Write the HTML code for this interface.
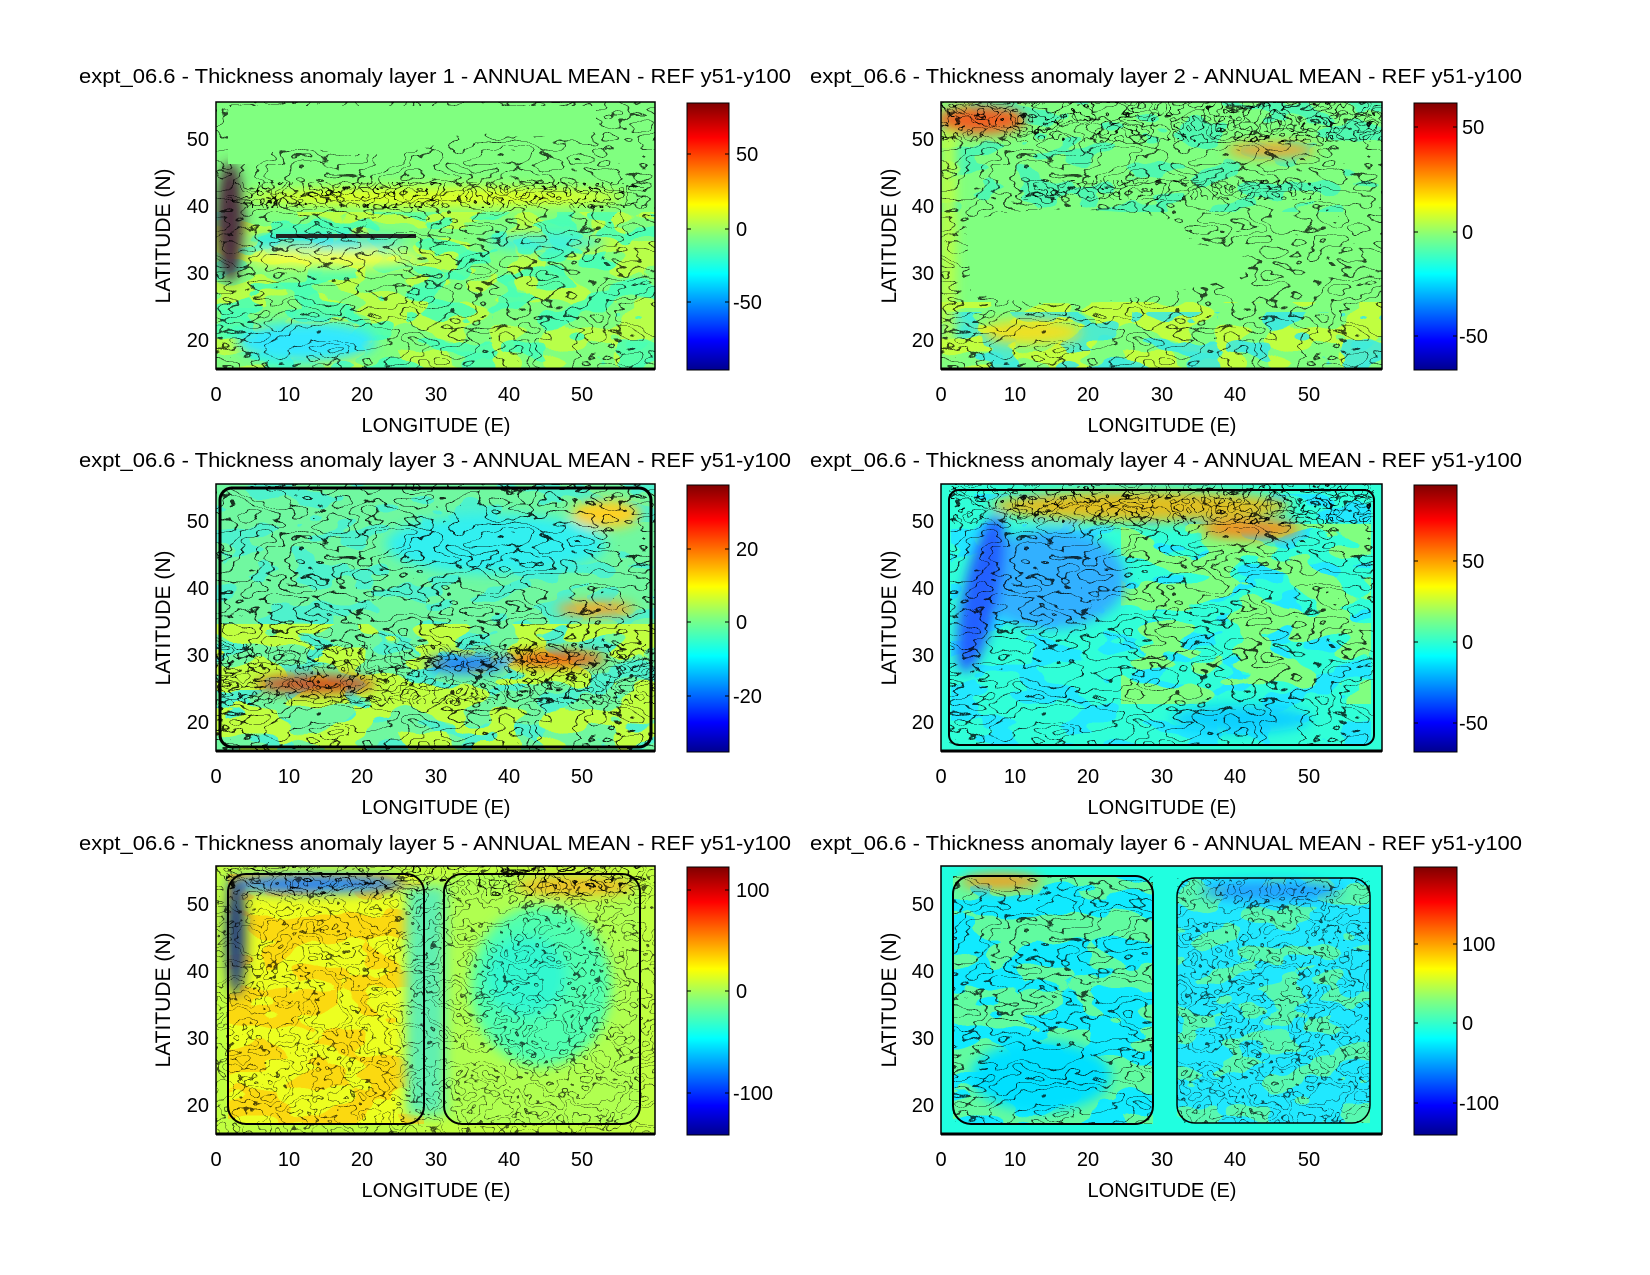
<!DOCTYPE html>
<html><head><meta charset="utf-8"><style>
html,body{margin:0;padding:0;background:#fff}
svg{display:block}
text{font-family:"Liberation Sans",sans-serif;fill:#000}
</style></head><body>
<svg width="1650" height="1275" viewBox="0 0 1650 1275" xmlns="http://www.w3.org/2000/svg">
<defs>
<linearGradient id="jet" x1="0" y1="1" x2="0" y2="0">
<stop offset="0" stop-color="#00008f"/><stop offset="0.11" stop-color="#0000ff"/>
<stop offset="0.36" stop-color="#00ffff"/><stop offset="0.5" stop-color="#80ff80"/><stop offset="0.62" stop-color="#ffff00"/>
<stop offset="0.87" stop-color="#ff0000"/><stop offset="1" stop-color="#800000"/>
</linearGradient>
<filter id="c1" x="0" y="0" width="1" height="1"><feTurbulence type="fractalNoise" baseFrequency="0.022 0.045" numOctaves="3" seed="3"/><feColorMatrix type="matrix" values="0 0 0 0 0 0 0 0 0 0 0 0 0 0 0 1 0 0 0 0"/><feComponentTransfer><feFuncA type="discrete" tableValues="0 0 0 0 0 0 0 0 0 0 0 0 0 0 0 0 0 0 0 0 0 1 0 0 0 0 0 0 0 1 0 0 0 0 0 0 0 1 0 0 0 0 0 0 0 0 0 0 0 0"/></feComponentTransfer></filter>
<filter id="c2" x="0" y="0" width="1" height="1"><feTurbulence type="fractalNoise" baseFrequency="0.04 0.05" numOctaves="3" seed="8"/><feColorMatrix type="matrix" values="0 0 0 0 0 0 0 0 0 0 0 0 0 0 0 1 0 0 0 0"/><feComponentTransfer><feFuncA type="discrete" tableValues="0 0 0 0 0 0 0 0 0 0 0 0 0 0 0 0 0 0 0 0 0 1 0 0 0 0 0 0 1 0 0 0 0 0 0 0 1 0 0 0 0 0 0 0 0 0 0 0 0 0"/></feComponentTransfer></filter>
<filter id="m1" x="0" y="0" width="1" height="1"><feTurbulence type="fractalNoise" baseFrequency="0.02 0.04" numOctaves="2" seed="5" result="n"/><feColorMatrix in="n" type="matrix" values="0 0 0 0 0 0 0 0 0 0 0 0 0 0 0 1 0 0 0 0" result="a"/><feComponentTransfer in="a" result="b"><feFuncA type="discrete" tableValues="0 0 0 0 0 0 0 0 0 0 1 1 1 1 1 1 1 1 1 1"/></feComponentTransfer><feComposite in="SourceGraphic" in2="b" operator="in"/></filter>
<filter id="m2" x="0" y="0" width="1" height="1"><feTurbulence type="fractalNoise" baseFrequency="0.025 0.05" numOctaves="2" seed="11" result="n"/><feColorMatrix in="n" type="matrix" values="0 0 0 0 0 0 0 0 0 0 0 0 0 0 0 1 0 0 0 0" result="a"/><feComponentTransfer in="a" result="b"><feFuncA type="discrete" tableValues="1 1 1 1 1 1 1 1 1 0 0 0 0 0 0 0 0 0 0 0"/></feComponentTransfer><feComposite in="SourceGraphic" in2="b" operator="in"/></filter>
<filter id="bl"><feGaussianBlur stdDeviation="6"/></filter>
</defs>

<!-- ===== Panel 1 ===== -->
<g transform="translate(216,102)">
<svg width="439" height="267" overflow="hidden">
<rect width="439" height="267" fill="#80ff80"/>
<rect y="110" width="439" height="157" fill="#b8ff48" filter="url(#m1)"/>
<rect y="110" width="439" height="157" fill="#40ffc0" filter="url(#m2)" opacity="0.8"/>
<g filter="url(#bl)">
<ellipse cx="90" cy="240" rx="70" ry="20" fill="#30e8ff"/>
<ellipse cx="120" cy="157" rx="90" ry="8" fill="#ffff40"/>
<ellipse cx="110" cy="140" rx="80" ry="6" fill="#20e0ff"/>
<ellipse cx="330" cy="140" rx="60" ry="8" fill="#40f0e0"/>
<ellipse cx="220" cy="95" rx="190" ry="10" fill="#e0ff20"/>
<ellipse cx="14" cy="120" rx="14" ry="60" fill="#503040"/>
</g>
<rect x="60" y="132" width="140" height="4" fill="#222"/>
<rect width="439" height="267" fill="#000" filter="url(#c1)" opacity="0.7"/>
<rect x="10" y="80" width="420" height="26" fill="#000" filter="url(#c2)" opacity="0.9"/>
<path d="M12 10 Q12 4 20 4 L380 4 L380 30 Q300 40 250 28 Q200 60 120 50 Q60 40 30 62 L12 62 Z" fill="#80ff80"/>
</svg>
</g>

<!-- ===== Panel 2 ===== -->
<g transform="translate(941,102)">
<svg width="441" height="267" overflow="hidden">
<rect width="441" height="267" fill="#80ff80"/>
<rect width="441" height="110" fill="#50f8b0" filter="url(#m2)"/>
<rect y="200" width="441" height="67" fill="#c0ff40" filter="url(#m1)"/>
<rect y="210" width="441" height="57" fill="#30e8f0" filter="url(#m2)" opacity="0.8"/>
<g filter="url(#bl)">
<ellipse cx="40" cy="18" rx="45" ry="14" fill="#f06020"/>
<ellipse cx="330" cy="48" rx="45" ry="7" fill="#ffa020"/>
<ellipse cx="90" cy="230" rx="50" ry="12" fill="#f0e020"/>
<rect x="0" y="30" width="14" height="220" fill="#c0ff40"/>
</g>
<rect width="441" height="267" fill="#000" filter="url(#c1)" opacity="0.7"/>
<rect width="441" height="40" fill="#000" filter="url(#c2)" opacity="0.9"/>
<rect x="80" y="78" width="300" height="20" fill="#000" filter="url(#c2)" opacity="0.8"/>
<path d="M25 120 Q90 100 200 112 Q260 120 240 140 Q330 150 300 175 Q240 190 160 200 Q80 205 30 190 Z" fill="#80ff80"/>
</svg>
</g>

<!-- ===== Panel 3 ===== -->
<g transform="translate(216,484)">
<svg width="439" height="267" overflow="hidden">
<rect width="439" height="267" fill="#70f8a0"/>
<rect width="439" height="267" fill="#40f0e0" filter="url(#m2)" opacity="0.7"/>
<rect y="140" width="439" height="127" fill="#c0ff40" filter="url(#m1)"/>
<g filter="url(#bl)">
<ellipse cx="280" cy="60" rx="110" ry="30" fill="#30f0f0"/>
<ellipse cx="340" cy="175" rx="50" ry="8" fill="#f06010"/>
<ellipse cx="250" cy="180" rx="40" ry="9" fill="#2080ff"/>
<ellipse cx="100" cy="200" rx="60" ry="9" fill="#d05020"/>
<ellipse cx="380" cy="125" rx="40" ry="7" fill="#ffa020"/>
<ellipse cx="390" cy="30" rx="35" ry="14" fill="#ffd020"/>
</g>
<rect width="439" height="267" fill="#000" filter="url(#c1)" opacity="0.8"/>
<rect y="160" width="439" height="60" fill="#000" filter="url(#c2)" opacity="0.8"/>
<rect x="4" y="4" width="431" height="259" fill="none" stroke="#000" stroke-width="3" rx="12"/>
</svg>
</g>

<!-- ===== Panel 4 ===== -->
<g transform="translate(941,484)">
<svg width="441" height="267" overflow="hidden">
<rect width="441" height="267" fill="#30ffd8"/>
<rect x="10" y="10" width="420" height="250" fill="#20e8ff" filter="url(#m2)"/>
<rect x="180" y="40" width="250" height="180" fill="#80ff80" filter="url(#m1)"/>
<g filter="url(#bl)">
<ellipse cx="110" cy="95" rx="75" ry="50" fill="#30b0ff"/>
<ellipse cx="40" cy="110" rx="18" ry="80" fill="#2060ff" transform="rotate(12 40 110)"/>
<ellipse cx="200" cy="22" rx="150" ry="16" fill="#e0c020"/>
<ellipse cx="310" cy="45" rx="50" ry="10" fill="#f09020"/>
<ellipse cx="300" cy="235" rx="70" ry="14" fill="#10d0ff"/>
</g>
<rect x="8" y="5" width="425" height="255" fill="#000" filter="url(#c1)" opacity="0.75"/>
<rect x="10" y="0" width="420" height="40" fill="#000" filter="url(#c2)" opacity="0.9"/>
<rect x="8" y="6" width="425" height="255" fill="none" stroke="#000" stroke-width="2" rx="10"/>
</svg>
</g>

<!-- ===== Panel 5 ===== -->
<g transform="translate(216,866)">
<svg width="439" height="268" overflow="hidden">
<rect width="439" height="268" fill="#c0ff40"/>
<rect x="12" y="8" width="196" height="250" rx="18" fill="#ecff20"/>
<rect x="12" y="8" width="196" height="250" fill="#ffd010" filter="url(#m1)" opacity="0.8"/>
<rect x="228" y="8" width="196" height="250" rx="18" fill="#b0ff50"/>
<g filter="url(#bl)">
<ellipse cx="325" cy="120" rx="70" ry="80" fill="#50ffb0"/>
<ellipse cx="310" cy="110" rx="40" ry="40" fill="#30f8d0"/>
<rect x="190" y="20" width="40" height="230" fill="#60f0b0"/>
<ellipse cx="360" cy="20" rx="60" ry="10" fill="#f0c020"/>
<ellipse cx="100" cy="18" rx="90" ry="9" fill="#2080ff"/>
<ellipse cx="20" cy="70" rx="10" ry="60" fill="#204080"/>
</g>
<rect width="439" height="268" fill="#000" filter="url(#c2)" opacity="0.65"/>
<rect x="10" y="0" width="420" height="30" fill="#000" filter="url(#c1)" opacity="0.9"/>
<rect x="12" y="8" width="196" height="250" rx="18" fill="none" stroke="#000" stroke-width="2"/>
<rect x="228" y="8" width="196" height="250" rx="18" fill="none" stroke="#000" stroke-width="2"/>
</svg>
</g>

<!-- ===== Panel 6 ===== -->
<g transform="translate(941,866)">
<svg width="441" height="268" overflow="hidden">
<rect width="441" height="268" fill="#20ffe0"/>
<rect x="12" y="10" width="200" height="248" rx="18" fill="#10eaff"/>
<rect x="12" y="10" width="200" height="248" fill="#70ff90" filter="url(#m1)" opacity="0.85"/>
<rect x="236" y="12" width="193" height="245" rx="18" fill="#20e8ff"/>
<rect x="236" y="12" width="193" height="245" fill="#70ff90" filter="url(#m2)" opacity="0.7"/>
<g filter="url(#bl)">
<ellipse cx="100" cy="210" rx="70" ry="35" fill="#00e0ff"/>
<ellipse cx="60" cy="15" rx="40" ry="8" fill="#f0a020"/>
<ellipse cx="330" cy="25" rx="70" ry="10" fill="#20a0ff"/>
</g>
<rect x="12" y="10" width="200" height="248" fill="#000" filter="url(#c1)" opacity="0.7"/>
<rect x="236" y="12" width="193" height="245" fill="#000" filter="url(#c2)" opacity="0.65"/>
<rect x="12" y="10" width="200" height="248" rx="18" fill="none" stroke="#000" stroke-width="2"/>
<rect x="236" y="12" width="193" height="245" rx="18" fill="none" stroke="#000" stroke-width="1.5"/>
</svg>
</g>

<!-- ===== Frames, axes, labels ===== -->
<g fill="none" stroke="#000" stroke-width="1.5">
<rect x="216" y="102" width="439" height="267"/><rect x="941" y="102" width="441" height="267"/>
<rect x="216" y="484" width="439" height="267"/><rect x="941" y="484" width="441" height="267"/>
<rect x="216" y="866" width="439" height="268"/><rect x="941" y="866" width="441" height="268"/>
</g>
<g stroke="#000" stroke-width="3">
<line x1="216" y1="369" x2="655" y2="369"/><line x1="941" y1="369" x2="1382" y2="369"/>
<line x1="216" y1="751" x2="655" y2="751"/><line x1="941" y1="751" x2="1382" y2="751"/>
<line x1="216" y1="1134" x2="655" y2="1134"/><line x1="941" y1="1134" x2="1382" y2="1134"/>
</g>

<!-- colorbars -->
<g stroke="#000" stroke-width="1">
<rect x="687" y="103" width="42" height="267" fill="url(#jet)"/>
<rect x="1414" y="103" width="43" height="267" fill="url(#jet)"/>
<rect x="687" y="485" width="42" height="267" fill="url(#jet)"/>
<rect x="1414" y="485" width="43" height="267" fill="url(#jet)"/>
<rect x="687" y="867" width="42" height="268" fill="url(#jet)"/>
<rect x="1414" y="867" width="43" height="268" fill="url(#jet)"/>
</g>

<g font-size="20">
<text x="79" y="83" textLength="712" lengthAdjust="spacingAndGlyphs">expt_06.6 - Thickness anomaly layer 1 - ANNUAL MEAN - REF y51-y100</text>
<text x="810" y="83" textLength="712" lengthAdjust="spacingAndGlyphs">expt_06.6 - Thickness anomaly layer 2 - ANNUAL MEAN - REF y51-y100</text>
<text x="79" y="467" textLength="712" lengthAdjust="spacingAndGlyphs">expt_06.6 - Thickness anomaly layer 3 - ANNUAL MEAN - REF y51-y100</text>
<text x="810" y="467" textLength="712" lengthAdjust="spacingAndGlyphs">expt_06.6 - Thickness anomaly layer 4 - ANNUAL MEAN - REF y51-y100</text>
<text x="79" y="850" textLength="712" lengthAdjust="spacingAndGlyphs">expt_06.6 - Thickness anomaly layer 5 - ANNUAL MEAN - REF y51-y100</text>
<text x="810" y="850" textLength="712" lengthAdjust="spacingAndGlyphs">expt_06.6 - Thickness anomaly layer 6 - ANNUAL MEAN - REF y51-y100</text>
</g>

<g font-size="20" text-anchor="middle">
<g>
<text x="216" y="401">0</text><text x="289" y="401">10</text><text x="362" y="401">20</text><text x="436" y="401">30</text><text x="509" y="401">40</text><text x="582" y="401">50</text>
<text x="941" y="401">0</text><text x="1015" y="401">10</text><text x="1088" y="401">20</text><text x="1162" y="401">30</text><text x="1235" y="401">40</text><text x="1309" y="401">50</text>
<text x="436" y="432">LONGITUDE (E)</text><text x="1162" y="432">LONGITUDE (E)</text>
</g>
<g transform="translate(0,382)">
<text x="216" y="401">0</text><text x="289" y="401">10</text><text x="362" y="401">20</text><text x="436" y="401">30</text><text x="509" y="401">40</text><text x="582" y="401">50</text>
<text x="941" y="401">0</text><text x="1015" y="401">10</text><text x="1088" y="401">20</text><text x="1162" y="401">30</text><text x="1235" y="401">40</text><text x="1309" y="401">50</text>
<text x="436" y="432">LONGITUDE (E)</text><text x="1162" y="432">LONGITUDE (E)</text>
</g>
<g transform="translate(0,765)">
<text x="216" y="401">0</text><text x="289" y="401">10</text><text x="362" y="401">20</text><text x="436" y="401">30</text><text x="509" y="401">40</text><text x="582" y="401">50</text>
<text x="941" y="401">0</text><text x="1015" y="401">10</text><text x="1088" y="401">20</text><text x="1162" y="401">30</text><text x="1235" y="401">40</text><text x="1309" y="401">50</text>
<text x="436" y="432">LONGITUDE (E)</text><text x="1162" y="432">LONGITUDE (E)</text>
</g>
</g>

<g font-size="20" text-anchor="end">
<g>
<text x="209" y="146">50</text><text x="209" y="213">40</text><text x="209" y="280">30</text><text x="209" y="347">20</text>
<text x="934" y="146">50</text><text x="934" y="213">40</text><text x="934" y="280">30</text><text x="934" y="347">20</text>
</g>
<g transform="translate(0,382)">
<text x="209" y="146">50</text><text x="209" y="213">40</text><text x="209" y="280">30</text><text x="209" y="347">20</text>
<text x="934" y="146">50</text><text x="934" y="213">40</text><text x="934" y="280">30</text><text x="934" y="347">20</text>
</g>
<g transform="translate(0,765)">
<text x="209" y="146">50</text><text x="209" y="213">40</text><text x="209" y="280">30</text><text x="209" y="347">20</text>
<text x="934" y="146">50</text><text x="934" y="213">40</text><text x="934" y="280">30</text><text x="934" y="347">20</text>
</g>
</g>
<g font-size="21" text-anchor="middle">
<text transform="translate(170,236) rotate(-90)">LATITUDE (N)</text>
<text transform="translate(896,236) rotate(-90)">LATITUDE (N)</text>
<text transform="translate(170,618) rotate(-90)">LATITUDE (N)</text>
<text transform="translate(896,618) rotate(-90)">LATITUDE (N)</text>
<text transform="translate(170,1000) rotate(-90)">LATITUDE (N)</text>
<text transform="translate(896,1000) rotate(-90)">LATITUDE (N)</text>
</g>

<g stroke="#000" stroke-width="1">
<path d="M687 154h4M725 154h4M687 229h4M725 229h4M687 302h4M725 302h4"/>
<path d="M1414 127h4M1453 127h4M1414 232h4M1453 232h4M1414 336h4M1453 336h4"/>
<path d="M687 549h4M725 549h4M687 622h4M725 622h4M687 696h4M725 696h4"/>
<path d="M1414 561h4M1453 561h4M1414 642h4M1453 642h4M1414 723h4M1453 723h4"/>
<path d="M687 890h4M725 890h4M687 991h4M725 991h4M687 1093h4M725 1093h4"/>
<path d="M1414 944h4M1453 944h4M1414 1023h4M1453 1023h4M1414 1103h4M1453 1103h4"/>
</g>
<g font-size="20">
<text x="736" y="161">50</text><text x="736" y="236">0</text><text x="733" y="309">-50</text>
<text x="1462" y="134">50</text><text x="1462" y="239">0</text><text x="1459" y="343">-50</text>
<text x="736" y="556">20</text><text x="736" y="629">0</text><text x="733" y="703">-20</text>
<text x="1462" y="568">50</text><text x="1462" y="649">0</text><text x="1459" y="730">-50</text>
<text x="736" y="897">100</text><text x="736" y="998">0</text><text x="733" y="1100">-100</text>
<text x="1462" y="951">100</text><text x="1462" y="1030">0</text><text x="1459" y="1110">-100</text>
</g>
</svg>
</body></html>
